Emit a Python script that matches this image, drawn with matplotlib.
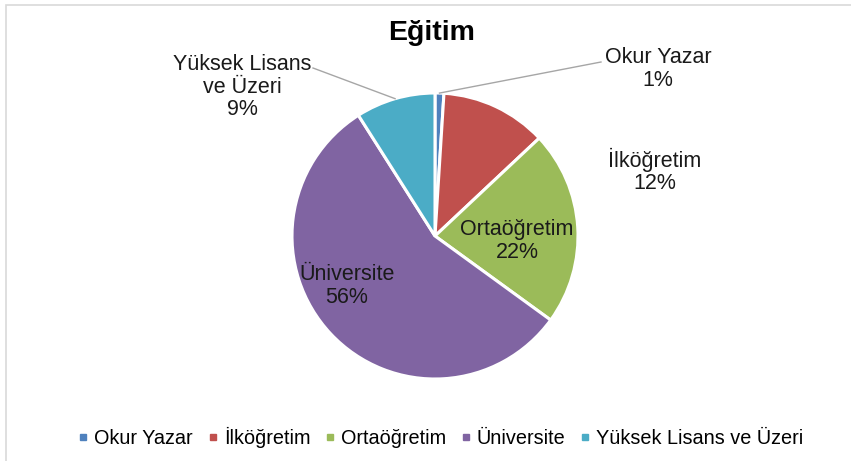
import matplotlib
matplotlib.use("Agg")
import numpy as np
import matplotlib.pyplot as plt
from matplotlib.lines import Line2D

plt.rcParams['font.family'] = ['Liberation Sans', 'DejaVu Sans']

# veriler
kategoriler = ["Okur Yazar", "İlköğretim", "Ortaöğretim", "Üniversite",
               "Yüksek Lisans ve Üzeri"]
yuzdeler = [1, 12, 22, 56, 9]
etiketler = ["Okur Yazar\n1%", "İlköğretim\n12%", "Ortaöğretim\n22%",
             "Üniversite\n56%", "Yüksek Lisans\nve Üzeri\n9%"]
renkler = ["#4F81BD", "#C0504D", "#9BBB59", "#8064A2", "#4BACC6"]

W, H = 851, 461
fig = plt.figure(figsize=(W / 100, H / 100), dpi=100)

# dış çerçeve
fig.add_artist(plt.Rectangle((6 / W, -0.05), 1.05, 1 - 5 / H + 0.05,
                             transform=fig.transFigure, fill=False,
                             edgecolor="#d9d9d9", linewidth=1.2))

# pasta: merkez (435, 236) px, yarıçap 143 px
cx, cy, r = 435, 236, 143
ax = fig.add_axes([(cx - r) / W, (H - cy - r) / H, 2 * r / W, 2 * r / H])
wedges, _ = ax.pie(yuzdeler, colors=renkler, startangle=90, counterclock=False,
                   radius=1, wedgeprops=dict(edgecolor="white", linewidth=2.2))
ax.set_xlim(-1, 1)
ax.set_ylim(-1, 1)
ax.set_aspect("equal")
ax.axis("off")


def px(x, y):
    # piksel -> veri koordinatı
    return (x - cx) / r, (cy - y) / r


fig.text(432 / W, 1 - 33 / H, "Eğitim", ha="center", va="center",
         fontsize=20.5, fontweight="bold")

# etiket konumları (piksel)
konumlar = [(658, 69), (655, 171), (517, 241), (347, 286), (242, 87)]
for i, (lbl, (x, y)) in enumerate(zip(etiketler, konumlar)):
    tx, ty = px(x, y)
    ax.text(tx, ty, lbl, ha="center", va="center", fontsize=15.5,
            color="#1a1a1a", linespacing=1.1)

# kılavuz çizgileri
def kenar(i):
    th1, th2 = wedges[i].theta1, wedges[i].theta2
    a = np.deg2rad((th1 + th2) / 2)
    return np.cos(a), np.sin(a)

ex, ey = kenar(0)
lx, ly = px(601, 62)
ax.plot([ex, lx], [ey, ly], color="#a6a6a6", lw=1, clip_on=False)
ex, ey = kenar(4)
lx, ly = px(313, 68)
ax.plot([ex, lx], [ey, ly], color="#a6a6a6", lw=1, clip_on=False)

# lejant
tutamaclar = [Line2D([], [], marker="s", linestyle="none", markersize=5,
                     markerfacecolor=c, markeredgecolor=c) for c in renkler]
fig.legend(tutamaclar, kategoriler, loc="center", ncol=5,
           bbox_to_anchor=(441 / W, 1 - 437 / H), frameon=False,
           fontsize=14.3, handletextpad=0.3, columnspacing=0.75,
           handlelength=0.5)

fig.savefig("out.png", dpi=100)
